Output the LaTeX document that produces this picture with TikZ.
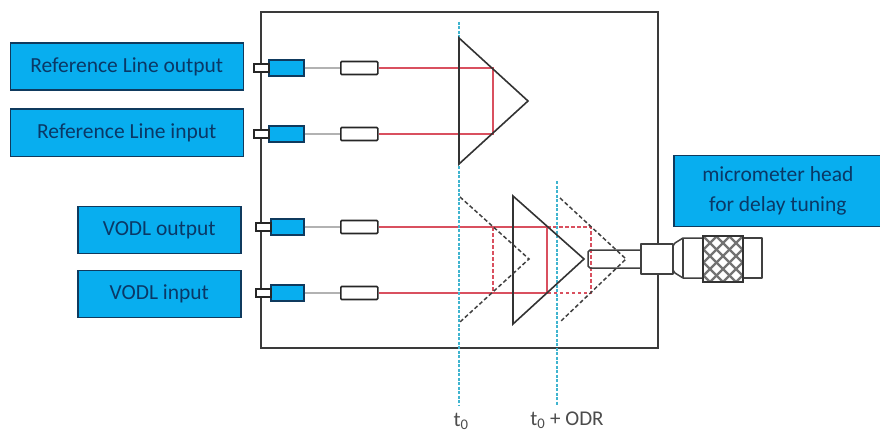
\documentclass[tikz,border=0pt]{standalone}
\usepackage{fontspec}
\setmainfont{Carlito}
\definecolor{cyanfill}{HTML}{08AEEF}
\definecolor{boxedge}{HTML}{0F3A5E}
\definecolor{labeltext}{HTML}{0A3866}
\definecolor{redline}{HTML}{D9505F}
\definecolor{dashblue}{HTML}{3FB4CF}
\definecolor{frameline}{HTML}{3A3A3A}
\tikzset{
 labelbox/.style={draw=boxedge,line width=1.6pt,fill=cyanfill,text=labeltext,font=\fontsize{21.5}{30}\selectfont,align=center,inner sep=0pt,anchor=north west},
 smallport/.style={draw=black!85,line width=1.5pt,fill=white,inner sep=0pt,anchor=west,minimum height=8pt},
 bluecoupler/.style={draw=boxedge,line width=1.6pt,fill=cyanfill,inner sep=0pt,anchor=west,minimum height=16pt,minimum width=35pt},
 collimator/.style={draw=black!85,line width=1.6pt,fill=white,rounded corners=1pt,inner sep=0pt,anchor=west,minimum height=13pt,minimum width=37pt},
 fibre/.style={draw=black!30,line width=1.3pt},
 beam/.style={draw=redline,line width=1.9pt},
 beamdash/.style={draw=redline,line width=1.5pt,dash pattern=on 3.5pt off 2.5pt},
 prism/.style={draw=black!80,line width=1.6pt,line join=miter},
 prismdash/.style={draw=black!75,line width=1.5pt,dash pattern=on 4pt off 2.5pt},
 timeline/.style={draw=dashblue,line width=1.5pt,dash pattern=on 3pt off 1.5pt},
 timelabel/.style={text=black!70,font=\fontsize{21}{24}\selectfont,inner sep=0pt},
 micro/.style={draw=black!75,line width=1.5pt,fill=white,line join=round}
}
\begin{document}
\begin{tikzpicture}[x=1pt,y=-1pt]
\useasboundingbox (0,0) rectangle (880,433);
% frame
\node[draw=frameline,line width=1.7pt,minimum width=397pt,minimum height=336pt,inner sep=0pt,anchor=north west] (frame) at (260,11) {};
% labels
\node[labelbox,minimum width=233pt,minimum height=47pt] (rlo) at (9.5,42.5) {Reference Line output};
\node[labelbox,minimum width=233pt,minimum height=47pt] (rli) at (9.5,108.5) {Reference Line input};
\node[labelbox,minimum width=163pt,minimum height=47pt] (vo) at (77,205.5) {VODL output};
\node[labelbox,minimum width=163pt,minimum height=47pt] (vi) at (77,269.5) {VODL input};
\node[labelbox,minimum width=208pt,minimum height=71pt] (mh) at (673,154.5) {\raisebox{-2pt}{micrometer head}\\\raisebox{-2pt}{for delay tuning}};
% fibre chains
\foreach \nm/\py/\dx in {a/68/0,b/134/0,c/227/2,d/293/2}{
 \node[collimator] (col\nm) at (340,\py) {};
 \node[bluecoupler,minimum width={35pt-\dx pt}] (cpl\nm) at (268+\dx,\py) {};
 \node[smallport,minimum width=15pt] (prt\nm) at (253+\dx,\py) {};
 \draw[fibre] (cpl\nm.east) -- (col\nm.west);
}
% prism corners
\coordinate (p1t) at (459,38); \coordinate (p1a) at (528,101); \coordinate (p1b) at (459,164);
\coordinate (p2t) at (513,196); \coordinate (p2a) at (584,259); \coordinate (p2b) at (513,324);
\coordinate (p3t) at (460,197); \coordinate (p3a) at (529,259); \coordinate (p3b) at (460,322);
\coordinate (p4t) at (560,198); \coordinate (p4a) at (626,259); \coordinate (p4b) at (560,322);
% beams
\coordinate (r1) at (493,68); \coordinate (r2) at (493,134);
\coordinate (r3) at (547,227); \coordinate (r4) at (547,293);
\coordinate (r5) at (591,227); \coordinate (r6) at (591,293);
\coordinate (r7) at (493,227); \coordinate (r8) at (493,293);
\draw[beam] (cola.east) -- (r1) -- (r2) -- (colb.east);
\draw[beam] (colc.east) -- (r3) -- (r4) -- (cold.east);
\draw[beamdash] (r3) -- (r5) -- (r6) -- (r4);
\draw[beamdash] (r7) -- (r8);
% time lines
\coordinate (t1t) at (459,22); \coordinate (t2t) at (557,181);
\node[timelabel] (t1) at (461,421) {t\textsubscript{0}};
\node[timelabel] (t2) at (567,420) {t\textsubscript{0} + ODR};
\coordinate (t1b) at (459,405); \coordinate (t2b) at (557,405);
\draw[timeline] (t1t) -- (t1b);
\draw[timeline] (t2t) -- (t2b);
% prisms
\draw[prism] (p1t) -- (p1a) -- (p1b) -- cycle;
\draw[prism] (p2t) -- (p2a) -- (p2b) -- cycle;
\draw[prismdash] (p3t) -- (p3a) -- (p3b);
\draw[prismdash] (p4t) -- (p4a) -- (p4b);
% micrometer
\draw[micro,fill opacity=0] (641,250) -- (590,250) -- (588,252) -- (588,266) -- (590,268) -- (641,268);
\draw[micro] (641,244) rectangle (673,274);
\draw[micro] (673,246) -- (675,243) -- (683,238) -- (703,238) -- (703,278) -- (683,278) -- (675,273) -- (673,270) -- cycle;
\draw[black!75,line width=1.4pt] (683,238) -- (683,278);
\draw[micro] (743,238) rectangle (762,278);
\begin{scope}
\clip (703,236) rectangle (743,282);
\fill[white] (703,236) rectangle (743,282);
\foreach \k in {-8,...,8}{
 \draw[black!55,line width=2.2pt] (703+\k*13,236) -- (703+\k*13+46,282);
 \draw[black!55,line width=2.2pt] (743-\k*13,236) -- (743-\k*13-46,282);
}
\end{scope}
\draw[black!80,line width=1.6pt] (703,236) rectangle (743,282);
\end{tikzpicture}
\end{document}
